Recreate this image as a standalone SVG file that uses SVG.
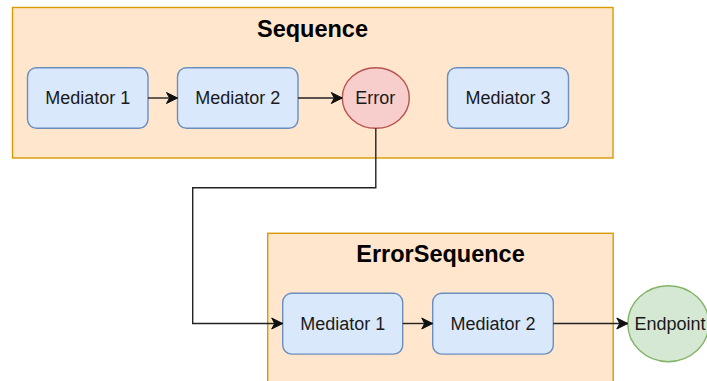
<svg xmlns="http://www.w3.org/2000/svg" width="707" height="381" viewBox="0 0 707 381">
  <style>
    .container { fill: #ffe6cc; stroke: #d79b00; stroke-width: 1.4; }
    .mediator { fill: #dae8fc; stroke: #6c8ebf; stroke-width: 1.4; }
    .error { fill: #f8cecc; stroke: #b85450; stroke-width: 1.4; }
    .endpoint { fill: #d5e8d4; stroke: #82b366; stroke-width: 1.4; }
    .title { font-family: "Liberation Sans", Arial, sans-serif; font-size: 23.5px; font-weight: bold; fill: #000; text-anchor: middle; }
    .label { font-family: "Liberation Sans", Arial, sans-serif; font-size: 18px; fill: #1a1a1a; text-anchor: middle; }
    .edge { fill: none; stroke: #222; stroke-width: 1.4; }
  </style>
  <defs>
    <marker id="arrow" markerUnits="userSpaceOnUse" markerWidth="14" markerHeight="14" viewBox="-12 -7 14 14" refX="0" refY="0" orient="auto">
      <path d="M-11,-5.5 L0,0 L-11,5.5 L-8,0 Z" fill="#111" stroke="#111" stroke-width="1" stroke-linejoin="miter"/>
    </marker>
  </defs>
  <rect width="707" height="381" fill="#ffffff"/>

  <!-- main sequence -->
  <g id="sequence">
    <rect class="container" x="12.5" y="7.5" width="600.5" height="150.5"/>
    <text class="title" x="312.5" y="36.5">Sequence</text>
  </g>

  <!-- fault handler sequence -->
  <g id="error-sequence">
    <rect class="container" x="267.7" y="233.3" width="345.5" height="160"/>
    <text class="title" x="440.5" y="261.7">ErrorSequence</text>
  </g>

  <g id="seq-mediator-1">
    <rect class="mediator" x="27.5" y="67.7" width="120.5" height="60.6" rx="9"/>
    <text class="label" x="87.7" y="104.3">Mediator 1</text>
  </g>
  <g id="seq-mediator-2">
    <rect class="mediator" x="177.5" y="67.7" width="120.5" height="60.6" rx="9"/>
    <text class="label" x="237.7" y="104.3">Mediator 2</text>
  </g>
  <g id="error">
    <ellipse class="error" cx="375.8" cy="98" rx="33.5" ry="30.3"/>
    <text class="label" x="375.3" y="104.3">Error</text>
  </g>
  <g id="seq-mediator-3">
    <rect class="mediator" x="447.5" y="67.7" width="121" height="60.6" rx="9"/>
    <text class="label" x="508" y="104.3">Mediator 3</text>
  </g>

  <g id="err-mediator-1">
    <rect class="mediator" x="282.7" y="293.3" width="120" height="60.8" rx="9"/>
    <text class="label" x="342.7" y="329.5">Mediator 1</text>
  </g>
  <g id="err-mediator-2">
    <rect class="mediator" x="432.7" y="293.3" width="120.6" height="60.8" rx="9"/>
    <text class="label" x="493" y="329.5">Mediator 2</text>
  </g>
  <g id="endpoint">
    <ellipse class="endpoint" cx="668.3" cy="323.7" rx="40.5" ry="38"/>
    <text class="label" x="670" y="329.5">Endpoint</text>
  </g>

  <!-- connectors -->
  <g id="connectors">
    <path class="edge" d="M148,98 L177.5,98" marker-end="url(#arrow)"/>
    <path class="edge" d="M298,98 L342.3,98" marker-end="url(#arrow)"/>
    <path class="edge" d="M375.8,128.3 L375.8,187.7 L192.7,187.7 L192.7,323.5 L282.7,323.5" marker-end="url(#arrow)"/>
    <path class="edge" d="M402.7,323.5 L432.7,323.5" marker-end="url(#arrow)"/>
    <path class="edge" d="M553.3,323.5 L627.8,323.5" marker-end="url(#arrow)"/>
  </g>
</svg>
